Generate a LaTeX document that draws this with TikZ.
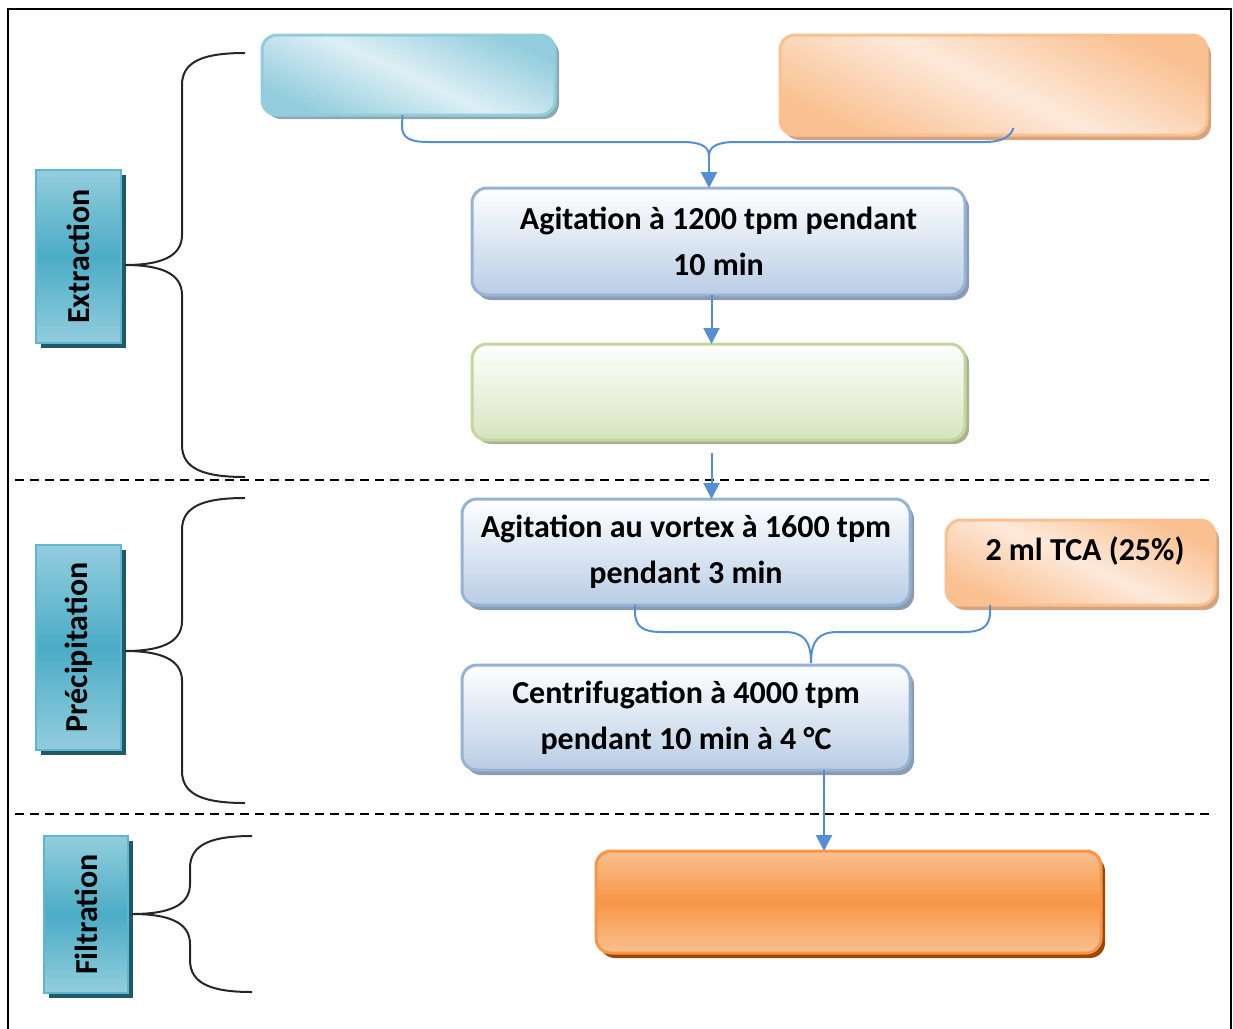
\documentclass[tikz,border=0pt]{standalone}
\usepackage{fontspec}
\setmainfont{Carlito}
\usepackage{tikz}
\usetikzlibrary{arrows.meta,positioning,shadows}
\definecolor{flowBlue}{HTML}{558ED5}
\definecolor{skyLight}{HTML}{DDEFF5}
\definecolor{skyDark}{HTML}{93CDDD}
\definecolor{skyShadow}{HTML}{8FA8AE}
\definecolor{peachLight}{HTML}{FDE9DA}
\definecolor{peachDark}{HTML}{FAC090}
\definecolor{peachShadow}{HTML}{D3A482}
\definecolor{steelLight}{HTML}{FFFFFF}
\definecolor{steelDark}{HTML}{B9CDE5}
\definecolor{steelEdge}{HTML}{95B3D7}
\definecolor{steelShadow}{HTML}{8C9BAE}
\definecolor{sageDark}{HTML}{D7E4BD}
\definecolor{sageEdge}{HTML}{C3D69B}
\definecolor{sageShadow}{HTML}{A9B191}
\definecolor{tangerine}{HTML}{F79646}
\definecolor{tangerineShadow}{HTML}{984807}
\definecolor{tealMid}{HTML}{4BACC6}
\definecolor{tealEdge}{HTML}{5FB6CD}
\definecolor{tealShadow}{HTML}{215968}

\begin{document}
\begin{tikzpicture}[
  x=1pt, y=-1pt,
  font=\fontsize{32}{46}\selectfont\bfseries,
  box/.style={rounded corners=15pt, align=center, inner sep=0pt, outer sep=0pt,
              line width=3pt},
  skybox/.style={box, draw=skyDark, top color=skyDark, bottom color=skyDark,
                 middle color=skyLight, shading angle=-25,
                 drop shadow={fill=skyShadow, opacity=1, shadow xshift=4pt, shadow yshift=-4pt}},
  peachbox/.style={box, draw=peachDark, top color=peachDark, bottom color=peachDark,
                   middle color=peachLight, shading angle=-25,
                   drop shadow={fill=peachShadow, opacity=1, shadow xshift=4pt, shadow yshift=-5pt}},
  steelbox/.style={box, draw=steelEdge, top color=steelLight, bottom color=steelDark,
                   drop shadow={fill=steelShadow, opacity=1, shadow xshift=4pt, shadow yshift=-5pt}},
  sagebox/.style={box, draw=sageEdge, top color=white, bottom color=sageDark,
                  drop shadow={fill=sageShadow, opacity=1, shadow xshift=4pt, shadow yshift=-4pt}},
  finalbox/.style={box, draw=tangerine, top color=peachDark, bottom color=peachDark,
                   middle color=tangerine,
                   drop shadow={fill=tangerineShadow, opacity=1, shadow xshift=4pt, shadow yshift=-5pt}},
  phase/.style={draw=tealEdge, line width=2.5pt, inner sep=0pt, outer sep=0pt,
                top color=skyDark, bottom color=skyDark, middle color=tealMid,
                drop shadow={fill=tealShadow, opacity=1, shadow xshift=5pt, shadow yshift=-5pt}},
  phasetext/.style={rotate=90},
  flow/.style={draw=flowBlue, line width=2pt},
  arr/.style={flow, -{Triangle[length=16pt, width=16pt]}},
  bracearc/.style={draw=black!85, line width=2pt},
  sep/.style={draw=black, line width=1.8pt, dash pattern=on 9pt off 6pt}
]
\useasboundingbox (0,0) rectangle (1233,1028);
\draw[line width=2.5pt] (8,1040) -- (8,9) -- (1231,9) -- (1231,1040);

% phase labels
\node[phase, minimum width=85pt, minimum height=173pt] (extr) at (78.5,256.5) {};
\node[phasetext] (extrText) at (extr) {Extraction};
\node[phase, minimum width=85pt, minimum height=205pt] (precip) at (78.5,647.5) {};
\node[phasetext] (precipText) at (precip) {Précipitation};
\node[phase, minimum width=84pt, minimum height=157pt] (filt) at (86,914.5) {};
\node[phasetext] (filtText) at (filt) {Filtration};

% braces
\foreach \xe/\xv/\top/\mid/\bot/\xt in {245/182/53/265/477/125, 245/182/498/651/803/125, 252/190/836/914/992/132}{
  \draw[bracearc] (\xe,\top) .. controls ({\xv+22},\top) and (\xv,{\top+8}) .. (\xv,{\top+32})
    -- (\xv,{\mid-30}) .. controls (\xv,{\mid-8}) and ({\xv-22},\mid) .. (\xt,\mid)
    .. controls ({\xv-22},\mid) and (\xv,{\mid+8}) .. (\xv,{\mid+30})
    -- (\xv,{\bot-32}) .. controls (\xv,{\bot-8}) and ({\xv+22},\bot) .. (\xe,\bot);
}

% separators
\draw[sep] (15,480) -- (1215,480);
\draw[sep] (15,814) -- (1215,814);

% steps
\node[skybox, minimum width=293pt, minimum height=80pt] (sample) at (408.5,75) {};
\node[peachbox, minimum width=427pt, minimum height=100pt] (solvent) at (993.5,85) {};
\node[steelbox, minimum width=493pt, minimum height=107pt] (agit) at (718.5,241.5)
  {Agitation à 1200 tpm pendant\\10 min};
\node[sagebox, minimum width=493pt, minimum height=96pt] (extract) at (718.5,392) {};
\node[steelbox, minimum width=448pt, minimum height=106pt] (vortex) at (686,552)
  {Agitation au vortex à 1600 tpm\\pendant 3 min};
\node[peachbox, minimum width=269pt, minimum height=85pt] (tca) at (1080.5,562.5) {};
\node (tcaText) at ([xshift=4.5pt, yshift=11pt]tca.center) {2 ml TCA (25\%)};
\node[steelbox, minimum width=448pt, minimum height=105pt] (centri) at (686,717.5)
  {Centrifugation à 4000 tpm\\pendant 10 min à 4 °C};
\node[finalbox, minimum width=505pt, minimum height=102pt] (filtrate) at (848.5,902) {};

% merge into the first agitation
\coordinate (mergeA) at (709,156);
\draw[flow] ([xshift=-6pt]sample.south) -- (402,126) .. controls (402,138) and (410,142) .. (428,142)
  -- (682,142) .. controls (700,142) and (709,146) .. (mergeA);
\draw[flow] ([xshift=20pt, yshift=7pt]solvent.south) .. controls (1010,138) and (1000,142) .. (985,142)
  -- (736,142) .. controls (718,142) and (709,146) .. (mergeA);
\draw[arr] (mergeA) -- (mergeA |- agit.north);

\draw[arr] ([xshift=-7pt]agit.south) -- ([xshift=-7pt]extract.north);
\draw[arr] ([xshift=-7pt, yshift=-13pt]extract.south) coordinate (g0) -- (g0 |- vortex.north);

% merge into the centrifugation
\coordinate (mergeB) at (811,663);
\draw[flow] ([xshift=-51pt]vortex.south) -- (635,612) .. controls (635,628) and (645,632) .. (662,632)
  -- (784,632) .. controls (803,632) and (811,640) .. (mergeB);
\draw[flow] ([xshift=-90.5pt]tca.south) -- (990,612) .. controls (990,628) and (980,632) .. (963,632)
  -- (838,632) .. controls (819,632) and (811,640) .. (mergeB);

\draw[arr] ([xshift=-24.5pt]filtrate.north |- centri.south) -- ([xshift=-24.5pt]filtrate.north);
\end{tikzpicture}
\end{document}
